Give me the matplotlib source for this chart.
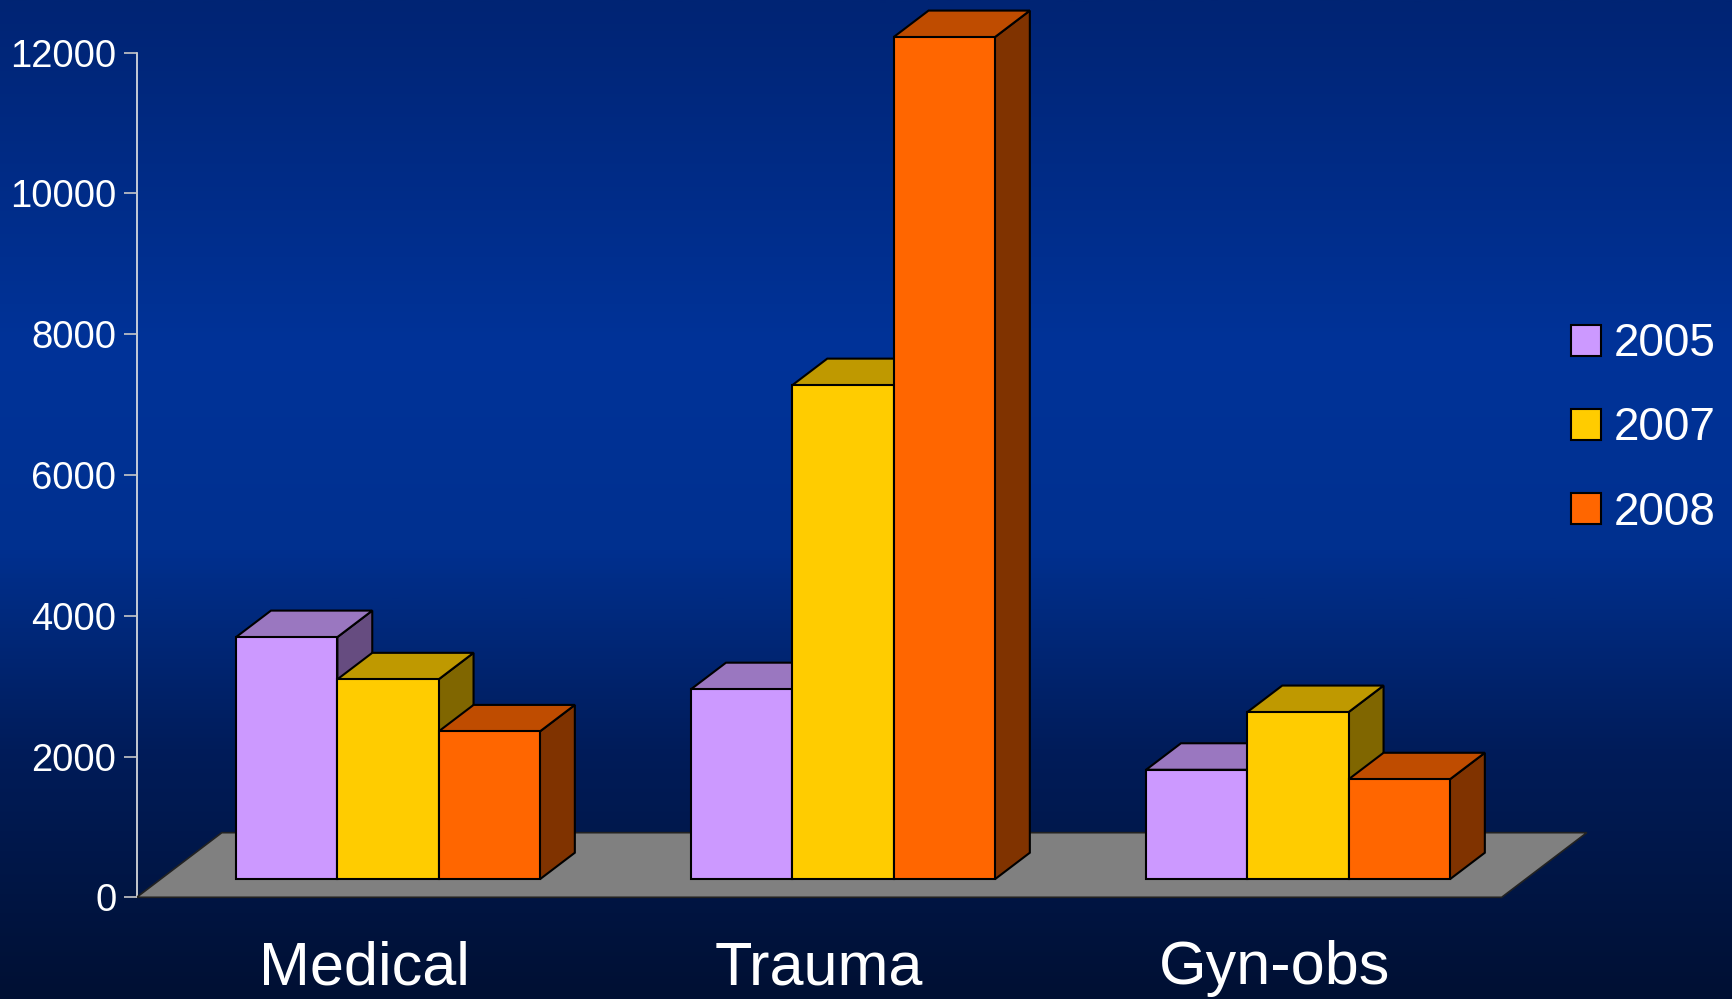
import numpy as np
import matplotlib
matplotlib.use("Agg")
import matplotlib.pyplot as plt
from matplotlib.patches import Polygon, Patch
from matplotlib.colors import LinearSegmentedColormap

# ---- data ----
categories = ["Medical", "Trauma", "Gyn-obs"]
series_names = ["2005", "2007", "2008"]
values_2005 = [3440, 2700, 1555]
values_2007 = [2840, 7020, 2375]
values_2008 = [2100, 11965, 1420]
y_ticks = [0, 2000, 4000, 6000, 8000, 10000, 12000]

# ---- styles ----
front_colors = ["#CC99FF", "#FFCC00", "#FF6600"]
top_colors = ["#9A77C0", "#BF9900", "#BF4C00"]
side_colors = ["#664C80", "#806600", "#803300"]
floor_color = "#808080"

plt.rcParams['font.family'] = ['Liberation Sans', 'DejaVu Sans']

W, H = 1733, 999
fig = plt.figure(figsize=(W / 100, H / 100), dpi=100)

# background gradient
bg = fig.add_axes([0, 0, 1, 1], zorder=-10)
bg.set_axis_off()
cmap = LinearSegmentedColormap.from_list("bg", [
    (0.0, "#002474"),
    (0.35, "#003399"),
    (0.55, "#00308F"),
    (0.75, "#001C5A"),
    (1.0, "#001033"),
])
grad = np.linspace(0, 1, 512).reshape(-1, 1)
bg.imshow(grad, aspect="auto", cmap=cmap, extent=[0, 1, 0, 1], origin="upper")
bg.set_xlim(0, 1)
bg.set_ylim(0, 1)

ax = fig.add_axes([136.7 / W, (H - 897.3) / H, 1365 / W, (897.3 - 52.7) / H])
ax.set_facecolor("none")
ax.set_xlim(0, len(categories))
ax.set_ylim(0, 12000)

# 3D geometry (in data units)
depth_dx, depth_dy = 0.187, 918.0   # floor depth vector
front_frac, depth_frac = 0.28, 0.41
bar_w = 0.2226
bdx, bdy = depth_frac * depth_dx, depth_frac * depth_dy
ox, oy = front_frac * depth_dx, front_frac * depth_dy

n = len(categories)
floor = Polygon([(0, 0), (n, 0), (n + depth_dx, depth_dy), (depth_dx, depth_dy)],
                closed=True, facecolor=floor_color, edgecolor="#222222",
                linewidth=1.2, clip_on=False, zorder=1)
ax.add_patch(floor)

all_vals = [values_2005, values_2007, values_2008]
z = 2
for i in range(n):
    for j, vals in enumerate(all_vals):
        v = vals[i]
        x0 = i + 0.5 - 1.5 * bar_w + j * bar_w + ox
        b = oy
        front = [(x0, b), (x0 + bar_w, b), (x0 + bar_w, b + v), (x0, b + v)]
        top = [(x0, b + v), (x0 + bar_w, b + v),
               (x0 + bar_w + bdx, b + v + bdy), (x0 + bdx, b + v + bdy)]
        side = [(x0 + bar_w, b), (x0 + bar_w + bdx, b + bdy),
                (x0 + bar_w + bdx, b + v + bdy), (x0 + bar_w, b + v)]
        for pts, col in ((side, side_colors[j]), (top, top_colors[j]), (front, front_colors[j])):
            ax.add_patch(Polygon(pts, closed=True, facecolor=col, edgecolor="black",
                                 linewidth=1.5, joinstyle="miter", clip_on=False, zorder=z))
        z += 1

# axes styling
for s in ["top", "right", "bottom"]:
    ax.spines[s].set_visible(False)
ax.spines["left"].set_color("#E6E6E6")
ax.spines["left"].set_linewidth(1.2)
ax.spines["left"].set_zorder(0.5)

ax.set_yticks(y_ticks)
ax.set_yticklabels([str(t) for t in y_ticks])
ax.tick_params(axis="y", direction="out", length=9.6, width=1.2, color="#C8C8C8",
               labelcolor="white", labelsize=27.5, pad=5.0)
ax.set_xticks([i + 0.5 for i in range(n)])
ax.set_xticklabels(categories)
ax.tick_params(axis="x", length=0, labelcolor="white", labelsize=44, pad=31)

handles = [Patch(facecolor=c, edgecolor="black", linewidth=1.5) for c in front_colors]
leg = fig.legend(handles, series_names, loc="center left",
                 bbox_to_anchor=(1570.7 / W, 1 - 428.5 / H), frameon=False,
                 fontsize=33, handlelength=0.66, handleheight=0.66,
                 handletextpad=0.28, labelspacing=0.88, borderpad=0, borderaxespad=0)
for t in leg.get_texts():
    t.set_color("white")

fig.savefig("out.png", dpi=100)
